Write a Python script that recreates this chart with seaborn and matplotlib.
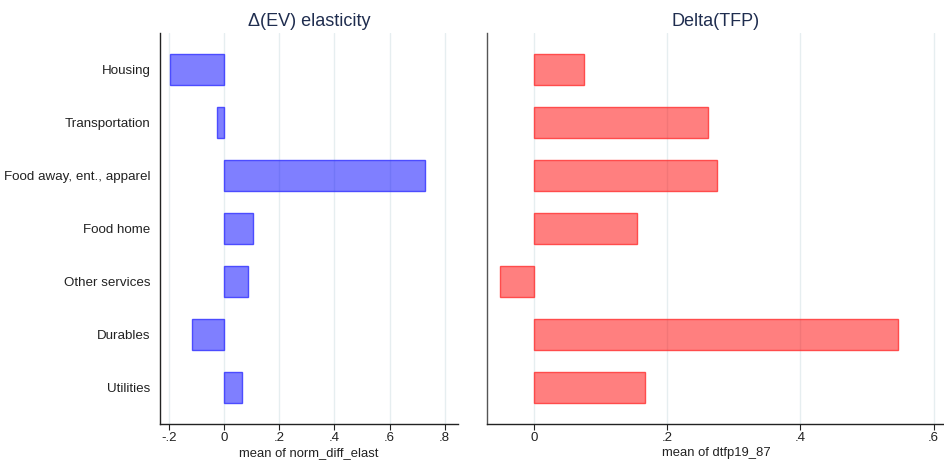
import matplotlib
matplotlib.use("Agg")
import matplotlib.pyplot as plt
import seaborn as sns
import pandas as pd
from matplotlib.ticker import FuncFormatter

categories = ["Housing", "Transportation", "Food away, ent., apparel", "Food home",
              "Other services", "Durables", "Utilities"]
norm_diff_elast = [-0.196, -0.027, 0.727, 0.103, 0.085, -0.118, 0.063]
dtfp19_87 = [0.075, 0.261, 0.274, 0.155, -0.051, 0.546, 0.166]

df = pd.DataFrame({"category": categories,
                   "norm_diff_elast": norm_diff_elast,
                   "dtfp19_87": dtfp19_87})

sns.set_style("white")
plt.rcParams["font.family"] = ["Liberation Sans", "DejaVu Sans"]

fig = plt.figure(figsize=(9.45, 4.66), dpi=100)
ax1 = fig.add_axes([0.1693, 0.0901, 0.3153, 0.839])
ax2 = fig.add_axes([0.5153, 0.0901, 0.4847, 0.839])


def stata_fmt(v, pos):
    if abs(v) < 1e-9:
        return "0"
    s = f"{v:.1f}"
    return s.replace("0.", ".")


panels = [
    (ax1, "norm_diff_elast", "Δ(EV) elasticity", (0, 0, 1, 0.5), (0.22, 0.22, 1, 0.85),
     (-0.233, 0.848), [-0.2, 0, 0.2, 0.4, 0.6, 0.8]),
    (ax2, "dtfp19_87", "Delta(TFP)", (1, 0, 0, 0.5), (1, 0.22, 0.22, 0.85),
     (-0.0706, 0.617), [0, 0.2, 0.4, 0.6]),
]

for ax, col, title, fc, ec, xlim, ticks in panels:
    ax.set_axisbelow(True)
    ax.grid(axis="x", color="#e6eef0", linewidth=1.0)
    sns.barplot(data=df, y="category", x=col, orient="h", width=0.58,
                color="blue", ax=ax)
    for p in ax.patches:
        p.set_facecolor(fc)
        p.set_edgecolor(ec)
        p.set_linewidth(1.0)
    ax.set_xlim(*xlim)
    ax.set_ylim(6.68, -0.68)
    ax.set_xticks(ticks)
    ax.xaxis.set_major_formatter(FuncFormatter(stata_fmt))
    ax.set_xlabel(f"mean of {col}", fontsize=9.4, color="#222222", labelpad=2)
    ax.set_ylabel("")
    ax.set_title(title, fontsize=13, color="#1f2d4f", pad=5)
    ax.tick_params(axis="x", direction="out", length=4, width=0.8, colors="#222222",
                   labelsize=9.5, pad=2, bottom=True)
    for s in ["top", "right"]:
        ax.spines[s].set_visible(False)
    ax.spines["left"].set_color("#222222")
    ax.spines["bottom"].set_color("#222222")
    ax.spines["left"].set_linewidth(1.0)
    ax.spines["bottom"].set_linewidth(1.0)

ax1.tick_params(axis="y", length=0, pad=7, labelsize=9.6, colors="#222222")
ax2.set_yticks([])
ax2.spines["left"].set_color("#555555")

fig.savefig("out.png", dpi=100)
